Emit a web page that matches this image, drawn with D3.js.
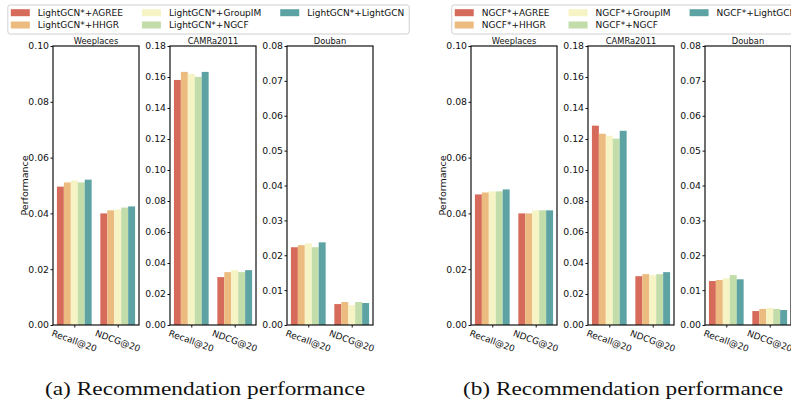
<!DOCTYPE html>
<html>
<head>
<meta charset="utf-8">
<script src="https://cdn.jsdelivr.net/npm/d3@7"></script>
<style>
  body { margin: 0; background: white; }
  text { font-family: "DejaVu Sans", sans-serif; fill: #111; }
</style>
</head>
<body>
<div id="chart"></div>
<script>
// ---- data ----
const metrics = ["Recall@20", "NDCG@20"];
const datasets = ["Weeplaces", "CAMRa2011", "Douban"];
const yMax = [0.10, 0.18, 0.08];
const yStep = [0.02, 0.02, 0.01];
const methods = ["AGREE", "HHGR", "GroupIM", "NGCF", "LightGCN"];
const colors = ["#d66b5b", "#ecbb80", "#f6f4c4", "#c2dcaa", "#5ea3a3"];

// LightGCN* backbone, [metric][method]
const lightgcnWeeplaces = [[0.0496, 0.0511, 0.0518, 0.0511, 0.0521], [0.0400, 0.0411, 0.0414, 0.0421, 0.0425]];
const lightgcnCamra = [[0.1581, 0.1633, 0.1620, 0.1601, 0.1633], [0.0309, 0.0341, 0.0354, 0.0341, 0.0354]];
const lightgcnDouban = [[0.0223, 0.0229, 0.0234, 0.0223, 0.0237], [0.0060, 0.0066, 0.0057, 0.0066, 0.0063]];

// NGCF* backbone
const ngcfWeeplaces = [[0.0468, 0.0475, 0.0479, 0.0479, 0.0486], [0.0400, 0.0400, 0.0411, 0.0411, 0.0411]];
const ngcfCamra = [[0.1286, 0.1234, 0.1221, 0.1202, 0.1253], [0.0315, 0.0328, 0.0321, 0.0328, 0.0341]];
const ngcfDouban = [[0.0126, 0.0129, 0.0134, 0.0143, 0.0131], [0.0040, 0.0046, 0.0049, 0.0046, 0.0043]];

const figures = [
  { prefix: "LightGCN*", caption: "(a) Recommendation performance", values: [lightgcnWeeplaces, lightgcnCamra, lightgcnDouban] },
  { prefix: "NGCF*", caption: "(b) Recommendation performance", values: [ngcfWeeplaces, ngcfCamra, ngcfDouban] }
];

// ---- layout ----
const width = 791, height = 404;
const figOffset = 418;
const panelLeft = [53, 170, 287];
const panelW = 86;
const plotTop = 46, plotBottom = 325;

let svg = d3.select('#chart')
  .append('svg')
  .attr('width', width)
  .attr('height', height);

figures.forEach((fig, fi) => {
  const ox = fi * figOffset;
  const g = svg.append('g').attr('transform', `translate(${ox},0)`);

  // x scale shared by panels: groups at 0 and 1, matplotlib default margins
  const x = d3.scaleLinear().domain([-0.49, 1.49]).range([0, panelW]);
  const barW = 0.16;

  datasets.forEach((ds, di) => {
    const y = d3.scaleLinear().domain([0, yMax[di]]).range([plotBottom, plotTop]);
    const p = g.append('g').attr('transform', `translate(${panelLeft[di]},0)`);

    // bars
    const rows = [];
    fig.values[di].forEach((vals, mi) => {
      vals.forEach((v, k) => rows.push({ metric: mi, method: k, value: v }));
    });
    p.selectAll('rect.bar')
      .data(rows)
      .enter()
      .append('rect')
      .attr('class', 'bar')
      .attr('x', d => x(d.metric - 0.4 + d.method * barW))
      .attr('width', x(barW) - x(0))
      .attr('y', d => y(d.value))
      .attr('height', d => plotBottom - y(d.value))
      .attr('fill', d => colors[d.method]);

    // y axis
    const ticks = d3.range(0, yMax[di] + yStep[di] / 2, yStep[di]);
    const yAxis = p.append('g')
      .call(d3.axisLeft(y).tickValues(ticks).tickFormat(d3.format('.2f')).tickSize(2.5).tickPadding(1.5));
    yAxis.select('.domain').remove();
    yAxis.selectAll('text').style('font-size', '9.3px').attr('fill', '#111');
    yAxis.selectAll('line').attr('stroke', '#111');

    // x axis ticks and rotated labels
    const xAxis = p.append('g')
      .attr('transform', `translate(0,${plotBottom})`)
      .call(d3.axisBottom(x).tickValues([0, 1]).tickFormat('').tickSize(2.5));
    xAxis.select('.domain').remove();
    xAxis.selectAll('line').attr('stroke', '#111');

    metrics.forEach((m, mi) => {
      p.append('text')
        .attr('transform', `translate(${x(mi)},${plotBottom + 16}) rotate(20)`)
        .attr('text-anchor', 'middle')
        .attr('dominant-baseline', 'central')
        .style('font-size', '9px')
        .text(m);
    });

    // frame
    p.append('rect')
      .attr('x', 0)
      .attr('y', plotTop)
      .attr('width', panelW)
      .attr('height', plotBottom - plotTop)
      .attr('fill', 'none')
      .attr('stroke', '#111')
      .attr('stroke-width', 1.2);

    // panel title
    p.append('text')
      .attr('x', panelW / 2)
      .attr('y', plotTop - 2.5)
      .attr('text-anchor', 'middle')
      .style('font-size', '8.3px')
      .text(ds);
  });

  // y label
  g.append('text')
    .attr('transform', `translate(24,${(plotTop + plotBottom) / 2}) rotate(-90)`)
    .attr('text-anchor', 'middle')
    .attr('dominant-baseline', 'central')
    .style('font-size', '9.5px')
    .text('Performance');

  // legend, three columns, centred over the figure
  const legend = g.append('g');
  const box = legend.append('rect')
    .attr('y', 5)
    .attr('height', 29)
    .attr('rx', 2.5)
    .attr('fill', 'white')
    .attr('stroke', '#d0d0d0')
    .attr('stroke-width', 1);

  const labels = methods.map(m => fig.prefix + "+" + m);
  let colX = 3;
  let right = 0;
  [0, 1, 2].forEach(c => {
    let maxW = 0;
    [0, 1].forEach(r => {
      const idx = c * 2 + r;
      if (idx >= labels.length) return;
      const cy = r === 0 ? 12.7 : 25;
      legend.append('rect')
        .attr('x', colX)
        .attr('y', cy - 3.5)
        .attr('width', 19)
        .attr('height', 7)
        .attr('fill', colors[idx]);
      const t = legend.append('text')
        .attr('x', colX + 27)
        .attr('y', cy)
        .attr('dominant-baseline', 'central')
        .style('font-size', '9px')
        .text(labels[idx]);
      maxW = Math.max(maxW, t.node().getComputedTextLength());
    });
    right = colX + 27 + maxW;
    colX = right + 19;
  });
  const legendW = right + 5;
  box.attr('x', 0).attr('width', legendW);
  legend.attr('transform', `translate(${208.5 - legendW / 2},0)`);

  // caption
  g.append('text')
    .attr('x', 205)
    .attr('y', 395)
    .attr('text-anchor', 'middle')
    .attr('textLength', 320)
    .attr('lengthAdjust', 'spacingAndGlyphs')
    .style('font-family', '"Liberation Serif", serif')
    .style('font-size', '19px')
    .text(fig.caption);
});
</script>
</body>
</html>
